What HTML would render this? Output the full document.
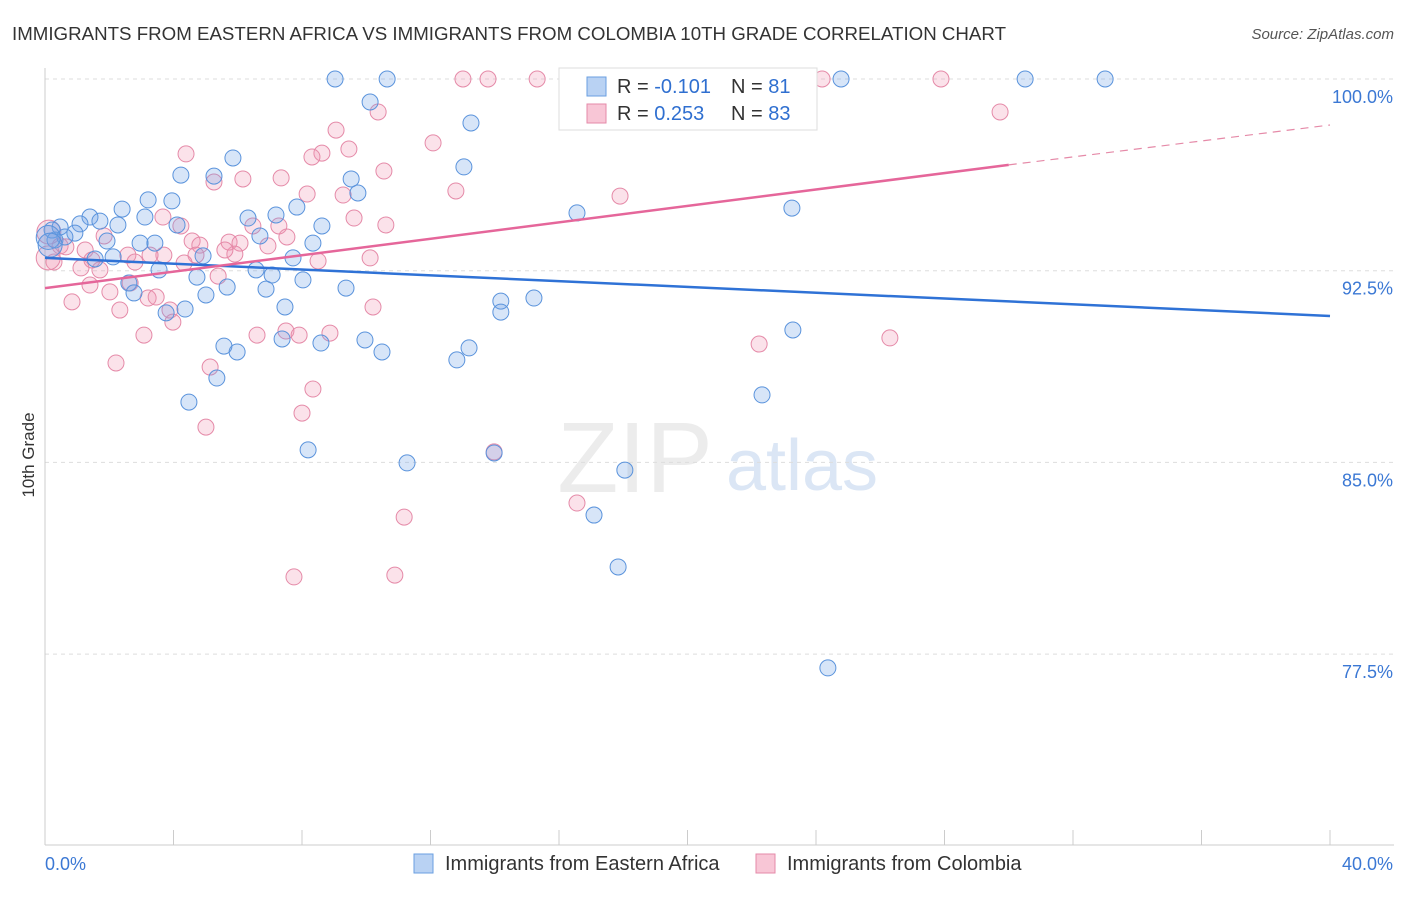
<!DOCTYPE html>
<html><head><meta charset="utf-8">
<style>
body{margin:0;background:#fff;font-family:"Liberation Sans",sans-serif;}
svg text{font-family:"Liberation Sans",sans-serif;}
</style></head>
<body>
<svg id="chart" width="1406" height="892" xmlns="http://www.w3.org/2000/svg">
<text x="12" y="40" font-size="18" textLength="994" lengthAdjust="spacingAndGlyphs" fill="#333">IMMIGRANTS FROM EASTERN AFRICA VS IMMIGRANTS FROM COLOMBIA 10TH GRADE CORRELATION CHART</text>
<text x="1394" y="39" font-size="15" fill="#555" text-anchor="end" font-style="italic">Source: ZipAtlas.com</text>
<text x="635" y="492" font-size="100" fill="#ececec" text-anchor="middle" font-family="Liberation Serif">ZIP</text>
<text x="802" y="490" font-size="72" fill="#dbe6f5" text-anchor="middle">atlas</text>
<text x="34" y="455" font-size="17" fill="#333" text-anchor="middle" transform="rotate(-90 34 455)">10th Grade</text>
<g id="grid"></g>
<g id="pts"></g>
<g id="trend"></g>
<g>
<rect x="559" y="68" width="258" height="62" fill="#fff" stroke="#ddd"/>
<rect x="587" y="77" width="19" height="19" fill="#b9d2f3" stroke="#6a9fe0"/>
<rect x="587" y="104" width="19" height="19" fill="#f8c6d6" stroke="#e58aa8"/>
<text x="617" y="93" font-size="20" fill="#333">R = <tspan fill="#2f6fd0">-0.101</tspan></text>
<text x="731" y="93" font-size="20" fill="#333">N = <tspan fill="#2f6fd0">81</tspan></text>
<text x="617" y="120" font-size="20" fill="#333">R = <tspan fill="#2f6fd0"> 0.253</tspan></text>
<text x="731" y="120" font-size="20" fill="#333">N = <tspan fill="#2f6fd0">83</tspan></text>
</g>
<g>
<rect x="414" y="854" width="19" height="19" fill="#b9d2f3" stroke="#6a9fe0"/>
<text x="445" y="870" font-size="20" fill="#333">Immigrants from Eastern Africa</text>
<rect x="756" y="854" width="19" height="19" fill="#f8c6d6" stroke="#e58aa8"/>
<text x="787" y="870" font-size="20" fill="#333">Immigrants from Colombia</text>
</g>
</svg>
<script>
const blueX=[9.03,10.65,17.28,24.78,30.51,33.0,10.12,13.26,5.85,13.04,4.23,5.26,9.53,9.74,3.21,3.95,7.84,2.40,16.56,23.25,1.40,1.71,3.11,6.32,7.19,1.09,2.27,4.11,8.62,0.47,0.22,0.93,0.31,0.62,1.93,2.96,3.42,6.69,8.34,4.92,1.56,2.12,7.72,6.57,7.07,3.55,4.73,8.03,2.61,5.67,6.88,9.37,5.01,2.77,14.19,15.22,7.47,4.36,3.77,14.19,23.28,7.38,8.59,9.96,5.57,5.98,10.49,13.2,12.82,5.35,22.32,4.48,8.19,11.27,13.98,18.05,17.09,17.84,24.37,0.1,0.16];
const blueY=[100,100,100,100,100,100,99.1,98.28,96.91,96.56,96.24,96.2,96.09,95.54,95.27,95.23,94.99,94.91,94.76,94.95,94.6,94.44,94.6,94.56,94.68,94.33,94.29,94.29,94.25,94.21,94.09,93.97,93.7,93.82,93.66,93.58,93.58,93.86,93.58,93.08,92.96,93.04,93.0,92.53,92.33,92.53,92.25,92.14,92.02,91.86,91.78,91.82,91.55,91.63,91.31,91.43,91.08,91.0,90.85,90.88,90.18,89.83,89.67,89.79,89.55,89.32,89.32,89.48,89.01,88.3,87.64,87.36,85.49,84.98,85.37,84.7,82.94,80.91,76.96,93.8,93.5];
const pinkX=[13.01,13.79,15.32,20.79,24.19,27.89,29.73,10.37,9.06,12.08,9.46,8.62,8.31,4.39,10.55,5.26,6.16,7.35,12.79,8.16,9.28,17.9,3.67,9.62,10.61,4.23,7.28,6.47,1.84,4.58,5.73,6.07,4.82,0.12,0.47,1.25,2.58,3.7,6.94,4.7,5.91,10.12,1.12,1.71,5.39,0.28,1.4,2.65,2.02,3.21,3.46,3.89,0.84,2.33,3.98,3.08,6.6,7.5,7.91,8.87,10.21,22.23,26.3,2.21,5.14,8.34,8.0,5.01,13.98,16.56,11.18,7.75,10.89,0.1,0.65,2.8,3.27,1.46,4.33,5.6,7.53,8.5];
const pinkY=[100,100,100,100,100,100,98.71,98.71,98.0,97.5,97.26,97.1,96.95,97.07,96.4,95.97,96.09,96.13,95.62,95.5,95.46,95.42,94.6,94.56,94.29,94.25,94.25,94.25,93.86,93.66,93.62,93.58,93.5,94.01,93.47,93.31,93.11,93.11,93.47,93.11,93.15,93.0,92.61,92.53,92.29,92.84,91.94,92.02,91.67,91.43,91.47,90.96,91.28,90.96,90.49,89.98,89.98,90.14,89.98,90.06,91.08,89.63,89.87,88.89,88.73,87.87,86.93,86.38,85.41,83.41,82.86,80.52,80.59,93.0,93.43,92.84,93.11,92.92,92.8,93.31,93.82,92.88];
const blueTrend=[[0,93.0],[40,90.73]];
const pinkTrendSolid=[[0,91.82],[30,96.64]];
const pinkTrendDash=[[30,96.64],[40,98.2]];
const yTicks=[100,92.5,85,77.5];
const yTickLabels=["100.0%","92.5%","85.0%","77.5%"];
const NS="http://www.w3.org/2000/svg";
const sx=v=>45+v/40*1285;
const sy=v=>79+(100-v)/7.5*191.7;
function mk(tag,attrs,parent){const e=document.createElementNS(NS,tag);for(const k in attrs)e.setAttribute(k,attrs[k]);parent.appendChild(e);return e;}
const grid=document.getElementById('grid');
yTicks.forEach((t,i)=>{
 const l=mk('line',{x1:45,x2:1394,y1:sy(t),y2:sy(t),stroke:'#ddd','stroke-dasharray':'4,4'},grid);
 
 
 const tx=mk('text',{x:1393,y:sy(t)+24,'font-size':18,fill:'#3b78d4','text-anchor':'end'},grid);
 tx.textContent=yTickLabels[i];
 
 
});
const ax=mk('line',{x1:45,x2:1394,y1:845,y2:845,stroke:'#ccc'},grid);


const ay=mk('line',{x1:45,x2:45,y1:68,y2:845,stroke:'#ccc'},grid);


for(let i=0;i<=10;i++){
 const t=mk('line',{x1:sx(i*4),x2:sx(i*4),y1:830,y2:845,stroke:'#ccc'},grid);
 
 
}
const x0=mk('text',{x:45,y:870,'font-size':18,fill:'#3b78d4'},grid);x0.textContent='0.0%';


const x1=mk('text',{x:1393,y:870,'font-size':18,fill:'#3b78d4','text-anchor':'end'},grid);x1.textContent='40.0%';


const pts=document.getElementById('pts');
pinkX.forEach((x,i)=>{
 const c=mk('circle',{cx:sx(x),cy:sy(pinkY[i]),r:(x<0.2?12:8),fill:'rgba(240,150,180,0.28)',stroke:'#e58aa8','stroke-width':1},pts);
 
 
});
blueX.forEach((x,i)=>{
 const c=mk('circle',{cx:sx(x),cy:sy(blueY[i]),r:(x<0.2?12:8),fill:'rgba(110,160,230,0.28)',stroke:'#5a93dc','stroke-width':1},pts);
 
 
});
const tr=document.getElementById('trend');
const bl=mk('line',{x1:sx(blueTrend[0][0]),y1:sy(blueTrend[0][1]),x2:sx(blueTrend[1][0]),y2:sy(blueTrend[1][1]),stroke:'#2f72d6','stroke-width':2.5},tr);


const pl=mk('line',{x1:sx(pinkTrendSolid[0][0]),y1:sy(pinkTrendSolid[0][1]),x2:sx(pinkTrendSolid[1][0]),y2:sy(pinkTrendSolid[1][1]),stroke:'#e5669a','stroke-width':2.5},tr);


const pd=mk('line',{x1:sx(pinkTrendDash[0][0]),y1:sy(pinkTrendDash[0][1]),x2:sx(pinkTrendDash[1][0]),y2:sy(pinkTrendDash[1][1]),stroke:'#e58aa8','stroke-width':1.2,'stroke-dasharray':'8,6'},tr);


</script>
</body></html>
